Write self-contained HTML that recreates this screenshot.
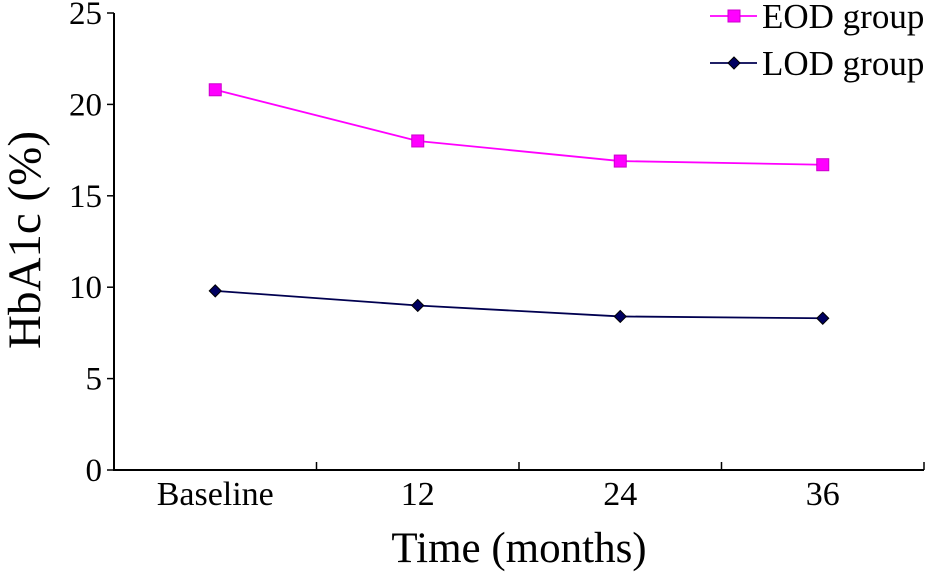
<!DOCTYPE html>
<html><head><meta charset="utf-8"><style>
body{margin:0;background:#fff}
svg text{font-family:"Liberation Serif",serif;fill:#000}
</style></head><body>
<svg id="chart" width="932" height="577" xmlns="http://www.w3.org/2000/svg"></svg>
<script>
const categories=["Baseline","12","24","36"];
const eodValues=[20.8,18.0,16.9,16.7];
const lodValues=[9.8,9.0,8.4,8.3];
const yTicks=[0,5,10,15,20,25];
const NS="http://www.w3.org/2000/svg";
const svg=document.getElementById('chart');
const x0=114,x1=924,y0=470,y1=13;
const band=(x1-x0)/categories.length;
const xPos=i=>x0+band*(i+0.5);
const yPos=v=>y0-(v/25)*(y0-y1);
function mk(tag,attrs,name,parent){const e=document.createElementNS(NS,tag);for(const k in attrs)e.setAttribute(k,attrs[k]);


(parent||svg).appendChild(e);return e;}
mk('line',{x1:x0,y1:y1,x2:x0,y2:y0+1,stroke:'#000','stroke-width':2},'y-axis');
mk('line',{x1:x0-1,y1:y0,x2:x1,y2:y0,stroke:'#000','stroke-width':2},'x-axis');
yTicks.forEach(v=>{const y=yPos(v);
mk('line',{x1:x0-7,y1:y,x2:x0,y2:y,stroke:'#000','stroke-width':1.5},'y-tick');
const t=mk('text',{x:x0-12,y:y+11,'text-anchor':'end','font-size':33},'y-tick-label');t.textContent=v;});
for(let i=1;i<=categories.length;i++){const x=x0+band*i;
mk('line',{x1:x,y1:y0,x2:x,y2:y0-8,stroke:'#000','stroke-width':1.5},'x-tick');}
categories.forEach((c,i)=>{const t=mk('text',{x:xPos(i),y:505,'text-anchor':'middle','font-size':34},'x-tick-label');t.textContent=c;});
const xt=mk('text',{x:519,y:562,'text-anchor':'middle','font-size':43},'x-axis-title');xt.textContent='Time (months)';
const yt=mk('text',{x:40,y:240,'text-anchor':'middle','font-size':47,transform:'rotate(-90 40 240)'},'y-axis-title');yt.textContent='HbA1c (%)';
function series(vals,color,stroke,marker,name){
mk('polyline',{points:vals.map((v,i)=>xPos(i)+','+yPos(v)).join(' '),fill:'none',stroke:color,'stroke-width':1.8},name+'-line');
vals.forEach((v,i)=>drawMarker(xPos(i),yPos(v),marker,color,stroke,name+'-point'));}
function drawMarker(x,y,m,color,stroke,name){
if(m==='sq')mk('rect',{x:x-6,y:y-6,width:12,height:12,fill:color,stroke:stroke,'stroke-width':1},name);
else mk('polygon',{points:`${x},${y-6} ${x+6},${y} ${x},${y+6} ${x-6},${y}`,fill:'#000060',stroke:'#000','stroke-width':1},name);}
series(eodValues,'#ff00ff','#cc00cc','sq','eod');
series(lodValues,'#000050','#000','di','lod');
mk('line',{x1:710,y1:16,x2:757,y2:16,stroke:'#ff00ff','stroke-width':1.8},'legend-eod-line');
drawMarker(734,16,'sq','#ff00ff','#cc00cc','legend-eod-marker');
const l1=mk('text',{x:762,y:28,'font-size':35},'legend-eod-label');l1.textContent='EOD group';
mk('line',{x1:710,y1:63,x2:757,y2:63,stroke:'#000050','stroke-width':1.8},'legend-lod-line');
drawMarker(734,63,'di','#000050','#000','legend-lod-marker');
const l2=mk('text',{x:762,y:75,'font-size':35},'legend-lod-label');l2.textContent='LOD group';
</script>
</body></html>
